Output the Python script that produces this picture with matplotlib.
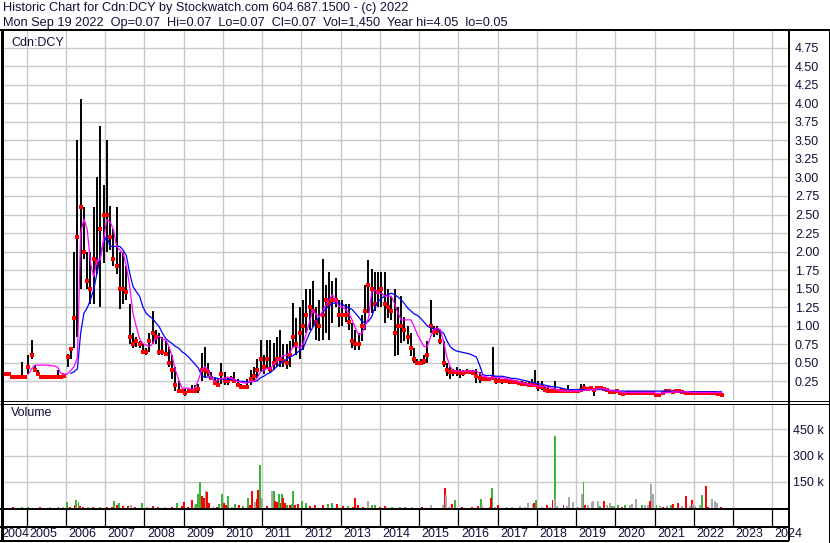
import numpy as np
import pandas as pd
import matplotlib
matplotlib.use("Agg")
import matplotlib.pyplot as plt
from matplotlib.lines import Line2D

plt.rcParams['font.family'] = ['Liberation Sans', 'DejaVu Sans']

nan = np.nan

# monthly bars, May 2004 .. Sep 2022
months = pd.date_range("2004-05-01", "2022-09-01", freq="MS")

high = [
    0.49, 0.36, 0.35, 0.31, 0.31, 0.31, 0.51, 0.31,                      # 2004
    0.60, 0.81, 0.47, 0.41, 0.31, 0.31, 0.31, 0.31, 0.31, 0.40, 0.31, 0.35,  # 2005
    0.62, 0.72, 2.00, 3.50, 4.05, 2.60, 2.00, 2.00, 2.60, 3.00, 3.69, 2.90,  # 2006
    3.50, 2.61, 2.30, 2.60, 1.99, 2.00, 1.80, 1.30, 0.90, 0.85, 0.80, 0.75,  # 2007
    0.70, 0.90, 1.20, 0.95, 0.90, 0.85, 0.80, 0.72, 0.60, 0.45, 0.25, 0.15,  # 2008
    0.15, 0.15, 0.20, 0.20, 0.22, 0.63, 0.72, 0.50, 0.38, 0.30, 0.30, 0.50,  # 2009
    0.38, 0.30, 0.33, 0.38, 0.28, 0.22, 0.20, 0.28, 0.40, 0.45, 0.55, 0.81,  # 2010
    0.60, 0.81, 0.81, 0.77, 0.85, 0.95, 0.75, 0.75, 0.80, 1.31, 1.10, 1.26,  # 2011
    1.35, 1.49, 1.50, 1.60, 1.26, 1.35, 1.90, 1.55, 1.72, 1.60, 1.65, 1.35,  # 2012
    1.35, 1.30, 1.30, 1.04, 0.95, 0.90, 1.15, 1.55, 1.89, 1.76, 1.72, 1.72,  # 2013
    1.72, 1.72, 1.50, 1.40, 1.49, 1.26, 1.40, 1.12, 1.00, 0.90, 0.70, 0.55,  # 2014
    0.55, 0.60, 0.80, 1.35, 1.00, 1.00, 0.95, 0.80, 0.50, 0.45, 0.42, 0.45,  # 2015
    0.42, 0.40, 0.42, 0.40, 0.40, 0.42, 0.38, 0.30, 0.30, 0.30, 0.71, 0.30,  # 2016
    0.30, 0.28, 0.27, 0.28, 0.26, 0.26, 0.25, 0.25, 0.24, 0.24, 0.28, 0.40,  # 2017
    0.25, 0.25, 0.18, 0.19, 0.14, 0.25, 0.13, 0.16, 0.13, 0.20, 0.13, 0.13,  # 2018
    0.13, 0.21, 0.21, 0.17, 0.17, 0.16, 0.17, 0.17, 0.16, 0.15, 0.14, 0.12,  # 2019
    0.13, 0.12, 0.10, 0.10, 0.11, 0.11, 0.10, 0.10, 0.11, 0.11, 0.11, 0.10,  # 2020
    0.09, 0.08, 0.12, 0.13, 0.13, 0.12, 0.13, 0.13, 0.12, 0.11, 0.11, 0.11,  # 2021
    0.11, 0.11, 0.10, 0.11, 0.10, 0.10, 0.10, 0.09, 0.08,                # 2022
]
low = [
    0.49, 0.35, 0.34, 0.31, 0.31, 0.31, 0.31, 0.31,
    0.35, 0.55, 0.38, 0.35, 0.31, 0.31, 0.31, 0.31, 0.31, 0.31, 0.31, 0.31,
    0.45, 0.55, 0.70, 0.85, 1.50, 1.90, 1.49, 1.30, 1.30, 1.70, 1.25, 1.85,
    1.99, 2.02, 1.80, 1.70, 1.22, 1.30, 1.35, 0.75, 0.70, 0.72, 0.70, 0.62,
    0.60, 0.65, 0.75, 0.75, 0.60, 0.60, 0.60, 0.45, 0.28, 0.12, 0.10, 0.10,
    0.05, 0.10, 0.10, 0.10, 0.10, 0.25, 0.30, 0.33, 0.27, 0.20, 0.17, 0.22,
    0.20, 0.20, 0.25, 0.24, 0.18, 0.16, 0.16, 0.15, 0.20, 0.25, 0.30, 0.38,
    0.35, 0.42, 0.37, 0.40, 0.45, 0.45, 0.45, 0.42, 0.45, 0.70, 0.60, 0.55,
    0.68, 0.90, 0.95, 0.99, 0.81, 0.80, 0.81, 0.90, 0.81, 1.04, 1.26, 0.99,
    1.00, 1.05, 0.95, 0.70, 0.68, 0.68, 0.80, 0.95, 1.17, 1.17, 1.20, 1.25,
    1.25, 1.04, 1.10, 1.08, 0.59, 0.60, 0.77, 0.80, 0.75, 0.59, 0.50, 0.48,
    0.47, 0.48, 0.50, 0.90, 0.85, 0.88, 0.75, 0.45, 0.32, 0.28, 0.33, 0.32,
    0.30, 0.33, 0.35, 0.36, 0.35, 0.23, 0.23, 0.25, 0.25, 0.26, 0.30, 0.22,
    0.23, 0.22, 0.23, 0.22, 0.21, 0.21, 0.20, 0.20, 0.19, 0.18, 0.18, 0.18,
    0.12, 0.14, 0.12, 0.10, 0.11, 0.10, 0.11, 0.11, 0.11, 0.11, 0.11, 0.11,
    0.11, 0.12, 0.13, 0.14, 0.14, 0.05, 0.15, 0.15, 0.14, 0.12, 0.10, 0.10,
    0.10, 0.08, 0.07, 0.08, 0.09, 0.09, 0.08, 0.08, 0.09, 0.09, 0.09, 0.07,
    0.07, 0.06, 0.07, 0.10, 0.11, 0.10, 0.11, 0.11, 0.10, 0.09, 0.09, 0.09,
    0.09, 0.09, 0.08, 0.09, 0.08, 0.08, 0.08, 0.07, 0.07,
]
close = [
    0.49, 0.35, 0.35, 0.31, 0.31, 0.31, 0.31, 0.31,
    0.45, 0.60, 0.40, 0.35, 0.31, 0.31, 0.31, 0.31, 0.31, 0.31, 0.31, 0.33,
    0.58, 0.69, 1.10, 2.20, 2.60, 2.00, 1.60, 1.50, 1.90, 1.85, 2.30, 2.50,
    2.50, 2.20, 1.90, 1.80, 1.50, 1.50, 1.45, 0.85, 0.75, 0.80, 0.75, 0.65,
    0.65, 0.80, 0.90, 0.85, 0.65, 0.65, 0.62, 0.50, 0.40, 0.20, 0.12, 0.12,
    0.10, 0.12, 0.12, 0.12, 0.15, 0.40, 0.40, 0.38, 0.30, 0.23, 0.20, 0.35,
    0.25, 0.25, 0.28, 0.26, 0.20, 0.18, 0.17, 0.18, 0.28, 0.33, 0.40, 0.55,
    0.45, 0.55, 0.42, 0.50, 0.55, 0.55, 0.52, 0.50, 0.60, 0.85, 0.75, 0.90,
    1.00, 1.15, 1.25, 1.20, 1.05, 1.00, 1.15, 1.35, 1.30, 1.35, 1.35, 1.15,
    1.15, 1.15, 1.05, 0.80, 0.75, 0.75, 1.00, 1.20, 1.55, 1.50, 1.30, 1.45,
    1.50, 1.30, 1.25, 1.20, 0.90, 1.00, 1.00, 0.95, 0.85, 0.70, 0.55, 0.50,
    0.50, 0.52, 0.60, 1.00, 0.92, 0.93, 0.80, 0.50, 0.40, 0.38, 0.38, 0.38,
    0.36, 0.37, 0.38, 0.38, 0.37, 0.33, 0.30, 0.28, 0.28, 0.28, 0.30, 0.25,
    0.26, 0.25, 0.25, 0.25, 0.24, 0.24, 0.23, 0.22, 0.22, 0.20, 0.20, 0.20,
    0.17, 0.17, 0.13, 0.12, 0.12, 0.12, 0.12, 0.12, 0.12, 0.12, 0.12, 0.12,
    0.12, 0.14, 0.16, 0.15, 0.16, 0.13, 0.16, 0.16, 0.15, 0.14, 0.11, 0.11,
    0.12, 0.10, 0.08, 0.09, 0.10, 0.10, 0.09, 0.09, 0.10, 0.10, 0.10, 0.09,
    0.07, 0.07, 0.10, 0.12, 0.12, 0.11, 0.12, 0.12, 0.11, 0.10, 0.10, 0.10,
    0.10, 0.10, 0.09, 0.10, 0.09, 0.09, 0.09, 0.08, 0.07,
]
# moving averages as drawn (magenta = short, blue = long)
ma_short = [
    nan, nan, nan, nan, nan, nan, nan, nan,
    0.35, 0.42, 0.47, 0.47, 0.47, 0.47, 0.47, 0.46, 0.46, 0.44, 0.36, 0.35,
    0.35, 0.40, 0.45, 0.57, 2.25, 2.44, 2.30, 1.85, 1.66, 1.89, 1.89, 2.16,
    2.43, 2.40, 2.30, 2.07, 2.02, 1.98, 1.80, 1.53, 1.17, 0.99, 0.83, 0.76,
    0.74, 0.72, 0.76, 0.83, 0.86, 0.82, 0.81, 0.72, 0.58, 0.40, 0.27, 0.16,
    0.16, 0.16, 0.14, 0.16, 0.27, 0.40, 0.45, 0.40, 0.29, 0.25, 0.27, 0.29,
    0.29, 0.31, 0.29, 0.28, 0.25, 0.24, 0.23, 0.23, 0.25, 0.25, 0.30, 0.38,
    0.40, 0.43, 0.42, 0.48, 0.52, 0.56, 0.60, 0.60, 0.64, 0.72, 0.72, 0.70,
    0.75, 0.90, 1.05, 1.22, 1.15, 1.12, 1.20, 1.28, 1.35, 1.42, 1.35, 1.26,
    1.26, 1.22, 1.17, 1.08, 0.97, 0.88, 0.90, 1.00, 1.10, 1.45, 1.48, 1.44,
    1.44, 1.40, 1.40, 1.40, 1.30, 1.18, 1.08, 1.08, 1.08, 1.08, 0.99, 0.88,
    0.80, 0.72, 0.72, 0.85, 0.95, 0.97, 0.95, 0.78, 0.58, 0.45, 0.39, 0.39,
    0.39, 0.39, 0.39, 0.39, 0.39, 0.39, 0.36, 0.32, 0.31, 0.30, 0.30, 0.30,
    0.30, 0.30, 0.29, 0.28, 0.27, 0.26, 0.25, 0.23, 0.22, 0.21, 0.20, 0.19,
    0.19, 0.18, 0.18, 0.17, 0.16, 0.15, 0.13, 0.12, 0.12, 0.12, 0.12, 0.12,
    0.12, 0.12, 0.13, 0.14, 0.14, 0.14, 0.15, 0.15, 0.15, 0.14, 0.13, 0.12,
    0.12, 0.11, 0.10, 0.10, 0.10, 0.10, 0.10, 0.10, 0.10, 0.10, 0.10, 0.10,
    0.09, 0.09, 0.09, 0.10, 0.10, 0.11, 0.11, 0.11, 0.11, 0.11, 0.11, 0.10,
    0.10, 0.10, 0.10, 0.10, 0.10, 0.10, 0.10, 0.10, 0.10,
]
ma_long = [
    nan, nan, nan, nan, nan, nan, nan, nan,
    nan, nan, nan, nan, nan, nan, nan, nan, nan, nan, nan, nan,
    nan, 0.36, 0.38, 0.42, 0.90, 1.17, 1.24, 1.35, 1.49, 1.71, 1.94, 2.12,
    2.21, 2.07, 2.07, 2.07, 2.07, 2.02, 1.94, 1.71, 1.53, 1.46, 1.40, 1.26,
    1.17, 1.13, 1.10, 1.04, 0.99, 0.90, 0.83, 0.79, 0.76, 0.72, 0.70, 0.65,
    0.62, 0.58, 0.53, 0.48, 0.43, 0.33, 0.31, 0.31, 0.30, 0.30, 0.29, 0.28,
    0.28, 0.28, 0.28, 0.27, 0.26, 0.25, 0.25, 0.24, 0.24, 0.25, 0.26, 0.30,
    0.32, 0.35, 0.37, 0.41, 0.45, 0.49, 0.52, 0.55, 0.58, 0.60, 0.63, 0.67,
    0.69, 0.80, 0.90, 0.98, 1.06, 1.13, 1.18, 1.23, 1.27, 1.30, 1.31, 1.30,
    1.29, 1.26, 1.24, 1.22, 1.17, 1.12, 1.06, 1.04, 1.06, 1.12, 1.25, 1.33,
    1.37, 1.40, 1.42, 1.44, 1.42, 1.39, 1.35, 1.30, 1.24, 1.20, 1.16, 1.14,
    1.10, 1.05, 1.00, 0.97, 0.96, 0.95, 0.93, 0.90, 0.80, 0.72, 0.68, 0.66,
    0.65, 0.64, 0.63, 0.62, 0.60, 0.58, 0.47, 0.34, 0.33, 0.33, 0.33, 0.32,
    0.32, 0.32, 0.31, 0.30, 0.29, 0.29, 0.28, 0.27, 0.26, 0.25, 0.24, 0.23,
    0.22, 0.21, 0.20, 0.19, 0.18, 0.18, 0.17, 0.16, 0.15, 0.14, 0.14, 0.14,
    0.14, 0.14, 0.14, 0.14, 0.14, 0.14, 0.14, 0.14, 0.14, 0.13, 0.13, 0.13,
    0.12, 0.12, 0.12, 0.12, 0.12, 0.12, 0.12, 0.12, 0.12, 0.12, 0.12, 0.12,
    0.12, 0.12, 0.12, 0.12, 0.12, 0.12, 0.11, 0.11, 0.11, 0.11, 0.11, 0.11,
    0.11, 0.11, 0.11, 0.11, 0.11, 0.11, 0.11, 0.11, 0.11,
]

# daily volume spikes (decimal year, thousands, u=up d=down n=unchanged)
vol_date = [
    2004.66, 2004.87, 2005.04, 2005.34, 2005.59, 2005.81, 2005.93, 2006.02, 2006.10, 2006.23,
    2006.26, 2006.32, 2006.36, 2006.44, 2006.57, 2006.70, 2006.87, 2007.04, 2007.17, 2007.23,
    2007.29, 2007.36, 2007.46, 2007.59, 2007.66, 2007.76, 2007.93, 2008.06, 2008.23, 2008.35,
    2008.52, 2008.70, 2008.82, 2008.95, 2009.02, 2009.12, 2009.21, 2009.29, 2009.31, 2009.37,
    2009.41, 2009.46, 2009.51, 2009.56, 2009.60, 2009.65, 2009.76, 2009.84, 2009.90, 2009.97,
    2010.03, 2010.08, 2010.14, 2010.22, 2010.31, 2010.42, 2010.50, 2010.65, 2010.69, 2010.73,
    2010.82, 2010.87, 2010.90, 2010.94, 2010.99, 2011.12, 2011.24, 2011.29, 2011.33, 2011.39,
    2011.44, 2011.47, 2011.51, 2011.54, 2011.59, 2011.64, 2011.71, 2011.75, 2011.79, 2011.84,
    2011.92, 2012.01, 2012.12, 2012.22, 2012.35, 2012.56, 2012.69, 2012.77, 2012.90, 2013.07,
    2013.20, 2013.32, 2013.37, 2013.45, 2013.58, 2013.69, 2013.79, 2013.88, 2014.00, 2014.13,
    2014.30, 2014.51, 2014.64, 2014.81, 2015.07, 2015.30, 2015.62, 2015.66, 2015.68, 2015.75,
    2015.85, 2015.92, 2016.09, 2016.34, 2016.51, 2016.57, 2016.60, 2016.81, 2016.85, 2016.83,
    2016.93, 2017.02, 2017.23, 2017.36, 2017.57, 2017.70, 2017.78, 2017.89, 2017.92, 2017.97,
    2018.12, 2018.25, 2018.34, 2018.40, 2018.46, 2018.47, 2018.51, 2018.68, 2018.76, 2018.83,
    2018.93, 2019.06, 2019.14, 2019.19, 2019.23, 2019.31, 2019.40, 2019.44, 2019.57, 2019.61,
    2019.72, 2019.78, 2019.87, 2019.91, 2019.97, 2020.08, 2020.16, 2020.25, 2020.38, 2020.42,
    2020.52, 2020.67, 2020.76, 2020.83, 2020.91, 2020.88, 2020.97, 2021.05, 2021.14, 2021.22,
    2021.31, 2021.42, 2021.46, 2021.61, 2021.69, 2021.79, 2021.90, 2021.95, 2021.98, 2022.03,
    2022.16, 2022.22, 2022.30, 2022.37, 2022.47, 2022.54, 2022.58, 2022.69,
]
vol_k = [
    3, 4, 6, 3, 3, 4, 5, 33, 5, 20,
    43, 33, 12, 8, 4, 5, 7, 6, 6, 40,
    20, 30, 10, 12, 20, 6, 30, 5, 12, 5,
    6, 5, 30, 10, 33, 8, 43, 15, 25, 80,
    147, 67, 55, 100, 93, 30, 10, 5, 25, 78,
    30, 15, 69, 8, 25, 20, 10, 55, 20, 100,
    35, 50, 105, 246, 60, 10, 100, 100, 40, 35,
    78, 30, 78, 55, 30, 20, 15, 25, 100, 20,
    25, 40, 30, 10, 15, 20, 25, 30, 25, 10,
    10, 8, 55, 15, 5, 40, 15, 15, 5, 10,
    6, 5, 5, 5, 3, 15, 20, 113, 75, 5,
    25, 43, 3, 5, 10, 52, 15, 5, 113, 55,
    5, 15, 5, 5, 10, 5, 30, 25, 30, 43,
    5, 15, 5, 43, 412, 50, 10, 18, 10, 65,
    35, 8, 80, 148, 15, 20, 35, 38, 38, 10,
    40, 15, 30, 10, 10, 15, 5, 15, 15, 25,
    52, 15, 20, 15, 135, 40, 78, 15, 10, 8,
    10, 20, 25, 30, 10, 67, 10, 45, 25, 10,
    20, 72, 125, 5, 52, 40, 30, 5,
]
vol_dir = [
    'd', 'u', 'u', 'd', 'n', 'd', 'n', 'u', 'd', 'd',
    'u', 'u', 'd', 'd', 'n', 'd', 'u', 'd', 'd', 'u',
    'd', 'u', 'd', 'd', 'n', 'd', 'u', 'n', 'd', 'd',
    'n', 'd', 'u', 'd', 'd', 'd', 'd', 'n', 'u', 'u',
    'u', 'd', 'd', 'n', 'd', 'd', 'n', 'd', 'u', 'u',
    'd', 'd', 'u', 'n', 'u', 'd', 'u', 'u', 'd', 'd',
    'n', 'd', 'd', 'u', 'n', 'd', 'n', 'u', 'd', 'd',
    'u', 'd', 'u', 'd', 'd', 'u', 'd', 'u', 'u', 'd',
    'd', 'u', 'u', 'd', 'd', 'd', 'u', 'u', 'd', 'd',
    'u', 'd', 'd', 'd', 'd', 'n', 'u', 'u', 'd', 'd',
    'u', 'u', 'u', 'n', 'd', 'n', 'n', 'd', 'n', 'n',
    'd', 'u', 'd', 'd', 'd', 'u', 'n', 'd', 'u', 'd',
    'n', 'd', 'n', 'n', 'n', 'n', 'n', 'n', 'd', 'u',
    'n', 'd', 'n', 'd', 'u', 'n', 'n', 'd', 'n', 'n',
    'n', 'n', 'n', 'u', 'd', 'n', 'n', 'n', 'n', 'u',
    'd', 'n', 'n', 'u', 'n', 'u', 'd', 'u', 'n', 'n',
    'n', 'u', 'n', 'n', 'n', 'd', 'n', 'u', 'n', 'd',
    'n', 'u', 'd', 'd', 'n', 'd', 'n', 'd', 'n', 'n',
    'n', 'u', 'd', 'd', 'n', 'n', 'n', 'd',
]

title_1 = "Historic Chart for Cdn:DCY by Stockwatch.com 604.687.1500 - (c) 2022"
title_2 = "Mon Sep 19 2022  Op=0.07  Hi=0.07  Lo=0.07  Cl=0.07  Vol=1,450  Year hi=4.05  lo=0.05"
year_labels = list(range(2004, 2025))
price_ticks = [0.25 * i for i in range(1, 20)]
vol_ticks = [150000, 300000, 450000]

# ---------------------------------------------------------------
W, H = 830, 543
TXT = '#101038'
GRID = '#c8c8c8'
vol_colors = {'u': '#3cb43c', 'd': '#ff0000', 'n': '#a8a8a8'}

t = months.year + (months.month - 0.5) / 12.0

fig = plt.figure(figsize=(W / 100, H / 100), dpi=100)
fig.patch.set_facecolor('white')


def rect(x0, y0, x1, y1):
    return [x0 / W, 1 - y1 / H, (x1 - x0) / W, (y1 - y0) / H]


def fig_line(xs, ys, px):
    fig.add_artist(Line2D([x / W for x in xs], [1 - y / H for y in ys],
                          color='black', lw=px * 0.72, transform=fig.transFigure,
                          solid_capstyle='butt'))


px_per_year = 39.24
x_2005 = 26.7
xmin = 2005 - (x_2005 - 3) / px_per_year
xmax = 2005 + (788 - x_2005) / px_per_year

ax_p = fig.add_axes(rect(3, 31, 788, 400))
ax_v = fig.add_axes(rect(3, 403, 788, 508))
ax_x = fig.add_axes(rect(3, 509, 788, 541))

for ax in (ax_p, ax_v, ax_x):
    ax.set_xlim(xmin, xmax)
    for s in ax.spines.values():
        s.set_visible(False)
    ax.set_xticks(range(2005, 2025))
    ax.tick_params(axis='x', length=0, labelbottom=False)

# price panel
ax_p.set_ylim(0, (400 - 31) / 74.2)
ax_p.set_yticks(price_ticks)
ax_p.set_yticklabels(['%.2f' % v for v in price_ticks])
ax_p.yaxis.tick_right()
ax_p.tick_params(axis='y', length=0, pad=5, labelsize=9, labelcolor=TXT)
ax_p.grid(True, color=GRID, lw=1.0)
ax_p.set_axisbelow(True)
ax_p.vlines(t, low, high, color='black', lw=1.4, zorder=2)
ax_p.plot(t, close, 's', color='#ff0000', ms=2.3, mew=0, zorder=3)
ax_p.plot(t, ma_long, color='#0000ff', lw=0.9, zorder=4)
ax_p.plot(t, ma_short, color='#ff00ff', lw=0.9, zorder=4)
ax_p.text(8 / 785, 1 - 12 / 369, "Cdn:DCY", transform=ax_p.transAxes,
          fontsize=9, color=TXT, va='center', ha='left')

# volume panel
ax_v.set_ylim(0, 600000)
ax_v.set_yticks(vol_ticks)
ax_v.set_yticklabels(['%d k' % (v // 1000) for v in vol_ticks])
ax_v.yaxis.tick_right()
ax_v.tick_params(axis='y', length=0, pad=3.5, labelsize=9, labelcolor=TXT)
ax_v.grid(True, color=GRID, lw=1.0)
ax_v.set_axisbelow(True)
ax_v.bar(vol_date, [v * 1000 for v in vol_k], width=0.05,
         color=[vol_colors[d] for d in vol_dir], linewidth=0, zorder=2)
ax_v.text(8 / 785, 1 - 10 / 105, "Volume", transform=ax_v.transAxes,
          fontsize=9, color=TXT, va='center', ha='left')

# year strip
ax_x.set_ylim(0, 1)
ax_x.set_yticks([])
ax_x.vlines(range(2005, 2025), 14 / 32, 1, color='black', lw=0.9)
for y in year_labels:
    xs = max(y + 2.5 / px_per_year, xmin - 2 / px_per_year)
    ax_x.text(xs, 7 / 32, str(y), fontsize=9, color=TXT, va='center',
              ha='left', clip_on=False)

# frame lines
fig_line([0, W], [30, 30], 2)
fig_line([1.5, 1.5], [30, 541], 3)
fig_line([788.5, 788.5], [30, 541], 2)
fig_line([0, W], [400.5, 400.5], 1)
fig_line([0, W], [403.5, 403.5], 1)
fig_line([0, 789], [509, 509], 2)
fig_line([0, 789], [527, 527], 2)
fig_line([0, 789], [541, 541], 2)
fig_line([829, 829], [30, 543], 1)

# header
fig.text(3 / W, 1 - 8.5 / H, title_1, fontsize=9.2, color=TXT, va='center', ha='left')
fig.text(3 / W, 1 - 23 / H, title_2, fontsize=9.2, color=TXT, va='center', ha='left')

fig.savefig("out.png", dpi=100, facecolor='white')
